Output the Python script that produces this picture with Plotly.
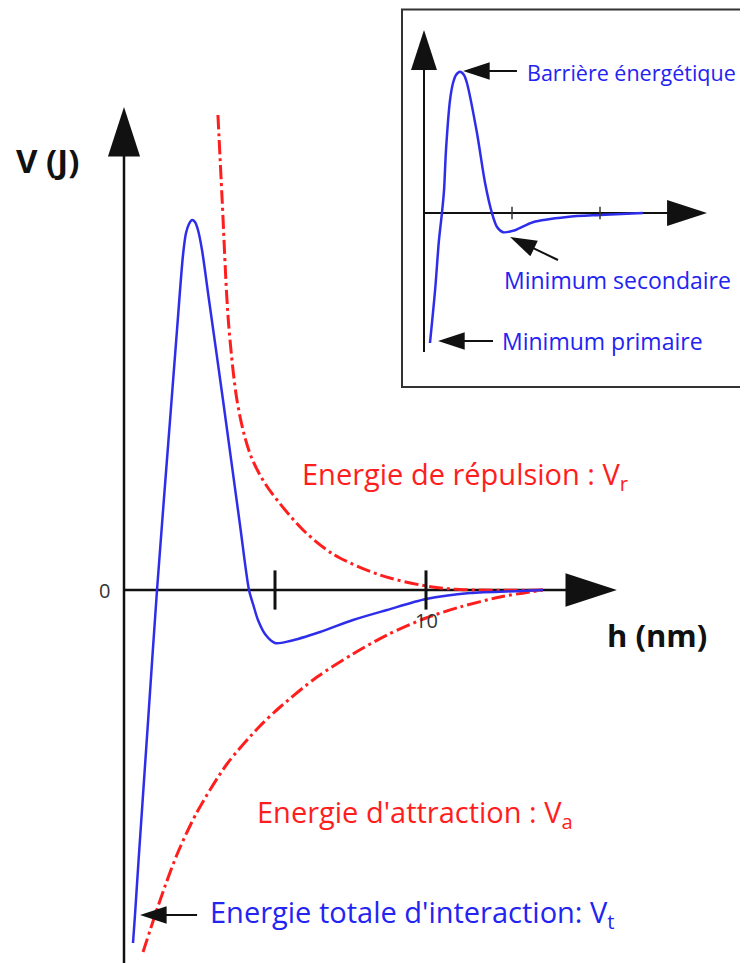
import plotly.graph_objects as go

# ---------------- data (main diagram) ----------------
h_total = [0.298, 0.364, 0.483, 0.788, 1.093, 1.576, 1.755, 1.954, 2.053, 2.152, 2.252, 2.351, 2.450,
           2.583, 2.815, 3.278, 3.841, 4.139, 4.272, 4.437, 4.669, 5.000, 5.497, 6.490, 7.583, 8.709,
           10.000, 11.457, 13.113, 13.874]
V_total = [-3.53, -3.25, -2.70, -1.35, 0.00, 1.90, 2.60, 3.35, 3.57, 3.66, 3.70, 3.68, 3.60,
           3.40, 2.90, 1.90, 0.65, 0.00, -0.14, -0.30, -0.44, -0.53, -0.51, -0.42, -0.30, -0.20,
           -0.09, -0.03, -0.01, 0.00]

h_rep = [3.11, 3.25, 3.41, 3.51, 3.74, 4.01, 4.27, 4.64, 5.07, 5.93, 6.72, 7.15, 8.48, 10.00, 11.13, 13.87]
V_rep = [4.75, 3.90, 2.90, 2.50, 1.90, 1.52, 1.29, 1.08, 0.90, 0.60, 0.40, 0.32, 0.15, 0.04, 0.005, 0.00]

h_att = [0.63, 1.03, 1.36, 1.79, 2.42, 3.41, 4.47, 5.17, 6.39, 7.58, 8.71, 10.00, 11.13, 12.45, 13.87]
V_att = [-3.62, -3.25, -2.96, -2.62, -2.22, -1.74, -1.37, -1.17, -0.87, -0.64, -0.45, -0.28, -0.17, -0.07, 0.00]

tick_vals = [5, 10]
tick_labels = ["", "10"]

# ---------------- data (inset) ----------------
h_inset = [0.34, 0.63, 0.85, 1.02, 1.14, 1.25, 1.48, 1.65, 1.82, 2.05, 2.27, 2.44, 3.01, 3.47,
           3.86, 4.15, 4.49, 5.17, 6.19, 8.13, 10.00, 12.44]
V_inset = [-3.25, -1.93, -0.68, 0.00, 0.58, 1.58, 2.83, 3.25, 3.45, 3.53, 3.45, 3.25, 2.00, 0.75,
           0.00, -0.35, -0.48, -0.43, -0.23, -0.10, -0.05, 0.00]
inset_ticks = [5, 10]

BLUE = "#2E2EEA"
BLUE_TXT = "#2323F2"
RED = "#FF1E1E"
BLACK = "#111111"
FONT = "Open Sans"

W, H = 740, 955  # page has an 8px body margin

fig = go.Figure()


def arrow_mark(x0, y0, x1, y1, xa, ya, width, head, angle, xstop, ystop):
    # shaft
    fig.add_trace(go.Scatter(x=[x0, xstop], y=[y0, ystop], mode="lines", xaxis=xa, yaxis=ya,
                             line=dict(color=BLACK, width=width), hoverinfo="skip"))
    # head (tip at marker position)
    fig.add_trace(go.Scatter(x=[x1], y=[y1], mode="markers", xaxis=xa, yaxis=ya,
                             marker=dict(symbol="arrow", size=head, angle=angle, color=BLACK,
                                         line=dict(width=0)),
                             hoverinfo="skip"))


# main axes
arrow_mark(0, -3.9, 0, 4.83, "x", "y", 2.5, 52, 0, 0, 4.5)
arrow_mark(0, 0, 16.32, 0, "x", "y", 2.5, 54, 90, 15.6, 0)
# inset axes
arrow_mark(0, -3.475, 0, 4.575, "x2", "y2", 2, 42, 0, 0, 4.0)
arrow_mark(0, 0, 16.08, 0, "x2", "y2", 2, 42, 90, 15.0, 0)

fig.add_trace(go.Scatter(x=h_rep, y=V_rep, mode="lines", xaxis="x", yaxis="y",
                         line=dict(color=RED, width=3, dash="14px,4px,3px,4px", shape="spline", smoothing=1.0),
                         hoverinfo="skip"))
fig.add_trace(go.Scatter(x=h_att, y=V_att, mode="lines", xaxis="x", yaxis="y",
                         line=dict(color=RED, width=3, dash="14px,4px,3px,4px", shape="spline", smoothing=0.8),
                         hoverinfo="skip"))
fig.add_trace(go.Scatter(x=h_total, y=V_total, mode="lines", xaxis="x", yaxis="y",
                         line=dict(color=BLUE, width=2.5, shape="spline", smoothing=0.8),
                         hoverinfo="skip"))
fig.add_trace(go.Scatter(x=tick_vals, y=[0] * len(tick_vals), mode="markers", xaxis="x", yaxis="y",
                         marker=dict(symbol="line-ns", size=28, line=dict(color=BLACK, width=3)),
                         hoverinfo="skip"))

fig.add_trace(go.Scatter(x=h_inset, y=V_inset, mode="lines", xaxis="x2", yaxis="y2",
                         line=dict(color=BLUE, width=2.5, shape="spline", smoothing=0.8),
                         hoverinfo="skip"))
fig.add_trace(go.Scatter(x=inset_ticks, y=[0] * len(inset_ticks), mode="markers", xaxis="x2", yaxis="y2",
                         marker=dict(symbol="line-ns", size=9, line=dict(color="#333333", width=1.5)),
                         hoverinfo="skip"))

# pointer arrows (tail -> tip)
arrow_mark(2.42, -3.25, 0.53, -3.25, "x", "y", 2, 28, 270, 0.80, -3.25)
arrow_mark(5.28, 3.55, 2.22, 3.55, "x2", "y2", 2, 28, 270, 2.70, 3.55)
arrow_mark(7.61, -1.175, 4.89, -0.60, "x2", "y2", 2, 28, -64.4, 5.32, -0.69)
arrow_mark(3.92, -3.20, 0.80, -3.20, "x2", "y2", 2, 28, 270, 1.28, -3.20)

ann = []


def label(x, y, text, xr, yr, size, color, xanchor="left", bold=False):
    ann.append(dict(x=x, y=y, xref=xr, yref=yr, text=("<b>%s</b>" % text) if bold else text,
                    showarrow=False, xanchor=xanchor, yanchor="middle",
                    font=dict(family=FONT, size=size, color=color)))


# texts main
label(-2.52, 4.30, "V (J)", "x", "y", 33, BLACK, "center", bold=True)
label(17.65, -0.45, "h (nm)", "x", "y", 31, BLACK, "center", bold=True)
label(-0.63, 0.0, "0", "x", "y", 20, "#333333", "center")
label(tick_vals[1], -0.30, tick_labels[1], "x", "y", 20, "#333333", "center")
label(5.83, 1.15, "Energie de répulsion : V<sub>r</sub>", "x", "y", 29, RED)
label(4.34, -2.23, "Energie d'attraction : V<sub>a</sub>", "x", "y", 29, RED)
label(2.78, -3.23, "Energie totale d'interaction: V<sub>t</sub>", "x", "y", 29, BLUE_TXT)
# texts inset
label(5.74, 3.525, "Barrière énergétique", "x2", "y2", 21.5, BLUE_TXT)
label(4.43, -1.675, "Minimum secondaire", "x2", "y2", 23, BLUE_TXT)
label(4.32, -3.20, "Minimum primaire", "x2", "y2", 23, BLUE_TXT)

hidden = dict(visible=False, showgrid=False, zeroline=False, fixedrange=True)

# screen-pixel mapping: main h=(px-124)/30.2, V=(590-py)/100 ; inset h=(px-424)/17.6, V=(213-py)/40
fig.update_layout(
    width=W, height=H,
    margin=dict(l=0, r=0, t=0, b=0),
    paper_bgcolor="white", plot_bgcolor="white",
    showlegend=False,
    xaxis=dict(range=[(8 - 124) / 30.2, (748 - 124) / 30.2], domain=[0, 1], **hidden),
    yaxis=dict(range=[(590 - 963) / 100, (590 - 8) / 100], domain=[0, 1], **hidden),
    xaxis2=dict(range=[(8 - 424) / 17.6, (748 - 424) / 17.6], overlaying="x", anchor="y2", **hidden),
    yaxis2=dict(range=[(213 - 963) / 40, (213 - 8) / 40], overlaying="y", anchor="x2", **hidden),
    annotations=ann,
    shapes=[dict(type="rect", xref="paper", yref="paper", x0=(402 - 8) / W, x1=1.03,
                 y0=1 - (387 - 8) / H, y1=1 - 1.5 / H, line=dict(color="#333333", width=2),
                 layer="below")],
)

fig.write_html("out.html")
